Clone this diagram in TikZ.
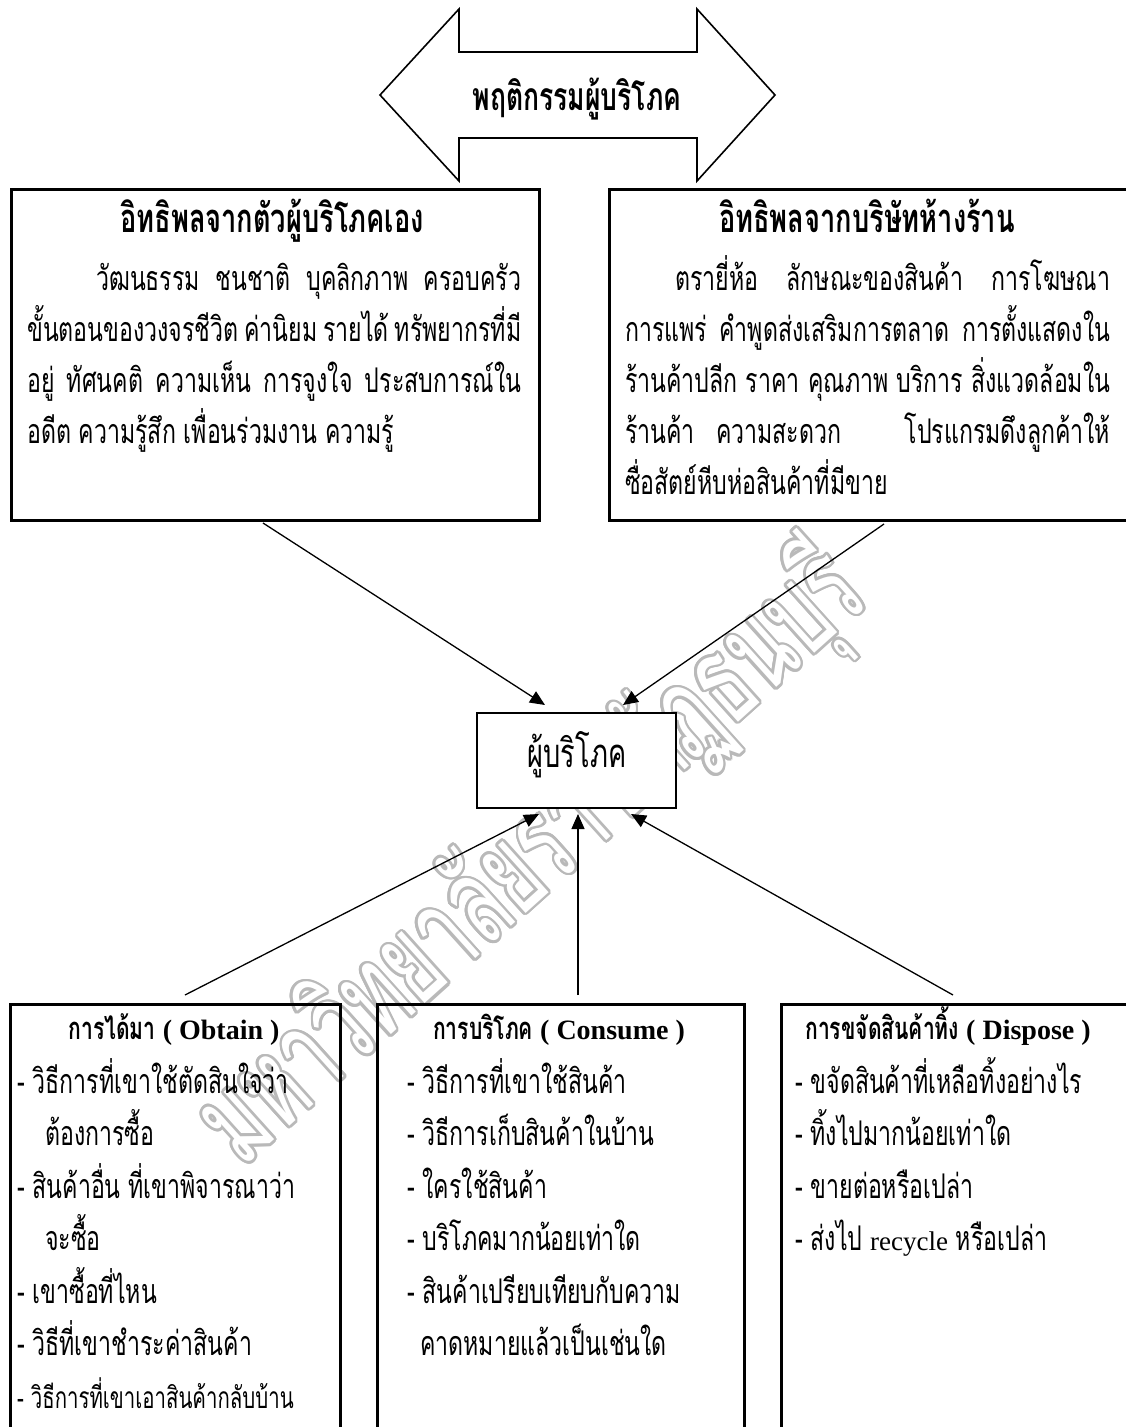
\documentclass[tikz,border=0pt]{standalone}
\usepackage{fontspec}
\setmainfont{Liberation Serif}
\newfontfamily\thfont[Script=Thai,FakeStretch=0.68]{Loma}
\newfontfamily\wmfont[Script=Thai,FakeStretch=0.62]{Loma}
\newfontfamily\latfont{Liberation Serif}
\usetikzlibrary{arrows.meta}
\tikzset{
  bigbox/.style={draw, line width=3pt, inner sep=0pt, anchor=north west},
  cbox/.style={draw, line width=2pt, fill=white, inner sep=0pt},
  conn/.style={line width=1.3pt, -{Triangle[length=15pt,width=13pt]}},
  body/.style={inner sep=0pt, anchor=base west, font=\thfont\fontsize{34}{36}\selectfont},
  ttl/.style={inner sep=0pt, anchor=base, font=\thfont\bfseries\fontsize{40}{42}\selectfont},
  subttl/.style={inner sep=0pt, anchor=base, font=\thfont\bfseries\fontsize{31}{33}\selectfont},
  wm/.style={inner sep=0pt, rotate=42, font=\wmfont\fontsize{124}{124}\selectfont},
}
\newcommand\latb[1]{{\latfont\bfseries\fontsize{28}{30}\selectfont #1}}
\newcommand\latr[1]{{\latfont\fontsize{27}{29}\selectfont #1}}
\begin{document}
\begin{tikzpicture}[x=1pt,y=-1pt]
\useasboundingbox (0,0) rectangle (1125,1427);
% watermark (outline effect)
\foreach \a in {0,20,...,340}{
  \node[wm, text=gray!55, xshift={2.6*cos(\a)}, yshift={2.6*sin(\a)}] (wm\a) at (533,858) {มหาวิทยาลัยราชภัฏธนบุรี};
}
\node[wm, text=white] (wmc) at (533,858) {มหาวิทยาลัยราชภัฏธนบุรี};

% big double arrow
\draw[line width=1.6pt, line join=miter] (380,95) -- (459,9) -- (459,52) -- (697,52) -- (697,9) -- (775,95)
  -- (697,181) -- (697,138) -- (459,138) -- (459,181) -- cycle;
\node[ttl, font=\thfont\bfseries\fontsize{39}{41}\selectfont] (beh) at (577,110) {พฤติกรรมผู้บริโภค};

% top boxes
\node[bigbox, minimum width=528pt, minimum height=331pt] (self) at (10,188) {};
\node[bigbox, minimum width=522pt, minimum height=331pt] (firm) at (608,188) {};

\node[ttl] (selft) at (272,232) {อิทธิพลจากตัวผู้บริโภคเอง};
\node[body] (s1) at (96,290) {\makebox[425pt][s]{วัฒนธรรม ชนชาติ บุคลิกภาพ ครอบครัว}};
\node[body] (s2) at (27,341) {\makebox[494pt][s]{ขั้นตอนของวงจรชีวิต ค่านิยม รายได้ ทรัพยากรที่มี}};
\node[body] (s3) at (27,392) {\makebox[494pt][s]{อยู่ ทัศนคติ ความเห็น การจูงใจ ประสบการณ์ใน}};
\node[body] (s4) at (27,443) {อดีต ความรู้สึก เพื่อนร่วมงาน ความรู้};

\node[ttl] (firmt) at (867,232) {อิทธิพลจากบริษัทห้างร้าน};
\node[body] (f1) at (675,290) {\makebox[435pt][s]{ตรายี่ห้อ ลักษณะของสินค้า การโฆษณา}};
\node[body] (f2) at (625,341) {\makebox[485pt][s]{การแพร่ คำพูดส่งเสริมการตลาด การตั้งแสดงใน}};
\node[body] (f3) at (625,392) {\makebox[485pt][s]{ร้านค้าปลีก ราคา คุณภาพ บริการ สิ่งแวดล้อมใน}};
\node[body] (f4) at (625,443) {\makebox[485pt][s]{ร้านค้า ความสะดวก\ \ \ โปรแกรมดึงลูกค้าให้}};
\node[body] (f5) at (625,494) {ซื่อสัตย์หีบห่อสินค้าที่มีขาย};

% consumer
\node[cbox, minimum width=199pt, minimum height=95pt] (cons) at (576.5,760.5) {};
\node[inner sep=0pt, anchor=base, font=\thfont\fontsize{40}{42}\selectfont] (const) at (577,767) {ผู้บริโภค};

% bottom boxes
\node[bigbox, minimum width=330pt, minimum height=440pt] (obt) at (9,1003) {};
\node[bigbox, minimum width=367pt, minimum height=440pt] (csm) at (376,1003) {};
\node[bigbox, minimum width=360pt, minimum height=440pt] (dsp) at (780,1003) {};

\node[subttl] (obtt) at (174,1039) {การได้มา \latb{( Obtain )}};
\node[body] (o1) at (17,1093) {- วิธีการที่เขาใช้ตัดสินใจว่า};
\node[body] (o2) at (45,1145.5) {ต้องการซื้อ};
\node[body] (o3) at (17,1198) {- สินค้าอื่น ที่เขาพิจารณาว่า};
\node[body] (o4) at (45,1250.5) {จะซื้อ};
\node[body] (o5) at (17,1303) {- เขาซื้อที่ไหน};
\node[body] (o6) at (17,1355.5) {- วิธีที่เขาชำระค่าสินค้า};
\node[body, font=\thfont\fontsize{30}{32}\selectfont] (o7) at (17,1408) {- วิธีการที่เขาเอาสินค้ากลับบ้าน};

\node[subttl] (csmt) at (559,1039) {การบริโภค \latb{( Consume )}};
\node[body] (c1) at (407,1093) {- วิธีการที่เขาใช้สินค้า};
\node[body] (c2) at (407,1145.5) {- วิธีการเก็บสินค้าในบ้าน};
\node[body] (c3) at (407,1198) {- ใครใช้สินค้า};
\node[body] (c4) at (407,1250.5) {- บริโภคมากน้อยเท่าใด};
\node[body] (c5) at (407,1303) {- สินค้าเปรียบเทียบกับความ};
\node[body] (c6) at (420,1355.5) {คาดหมายแล้วเป็นเช่นใด};

\node[subttl] (dspt) at (948,1039) {การขจัดสินค้าทิ้ง \latb{( Dispose )}};
\node[body] (d1) at (795,1093) {- ขจัดสินค้าที่เหลือทิ้งอย่างไร};
\node[body] (d2) at (795,1145.5) {- ทิ้งไปมากน้อยเท่าใด};
\node[body] (d3) at (795,1198) {- ขายต่อหรือเปล่า};
\node[body] (d4) at (795,1250.5) {- ส่งไป \latr{recycle} หรือเปล่า};

% connectors
\coordinate (a1s) at (263,523); \coordinate (a1e) at (545,705);
\coordinate (a2s) at (884,524); \coordinate (a2e) at (623,705);
\coordinate (a3s) at (185,995); \coordinate (a3e) at (539,814);
\coordinate (a4s) at (578,995); \coordinate (a4e) at (578,814);
\coordinate (a5s) at (953,995); \coordinate (a5e) at (631,814);
\draw[conn] (a1s) -- (a1e);
\draw[conn] (a2s) -- (a2e);
\draw[conn] (a3s) -- (a3e);
\draw[conn] (a4s) -- (a4e);
\draw[conn] (a5s) -- (a5e);
\end{tikzpicture}
\end{document}
